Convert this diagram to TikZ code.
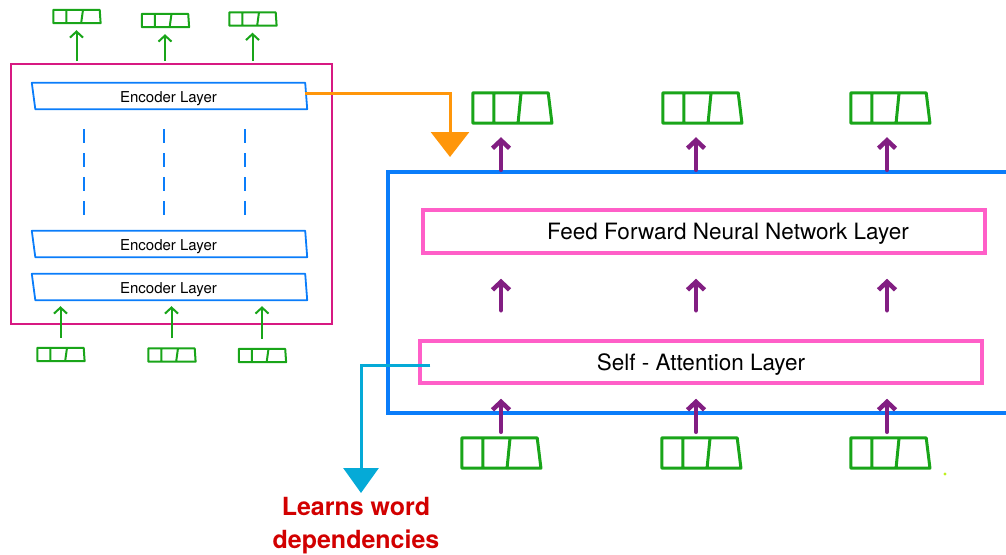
\documentclass[tikz,border=0pt]{standalone}
\usepackage{fontspec}
\setmainfont{TeX Gyre Heros}
\usetikzlibrary{arrows.meta,fit,calc}
\definecolor{vecgreen}{RGB}{25,165,25}
\definecolor{encpink}{RGB}{215,25,130}
\definecolor{layerblue}{RGB}{10,125,250}
\definecolor{decpink}{RGB}{255,95,200}
\definecolor{arrowpurple}{RGB}{130,30,130}
\definecolor{linkorange}{RGB}{255,150,10}
\definecolor{linkcyan}{RGB}{5,170,215}
\definecolor{notered}{RGB}{210,0,0}
\definecolor{dotlime}{RGB}{190,240,30}

% word vector: name, x, y, width, height, line width, slant
\newcommand{\wordvec}[7]{%
  \node[minimum width=#4pt, minimum height=#5pt, inner sep=0pt] (#1) at (#2,#3) {};
  \draw[vecgreen, line width=#6pt, line join=round]
    (#1.north west) -- (#1.north east) -- ([xshift=#7*#4pt]#1.south east) -- (#1.south west) -- cycle
    ($(#1.north west)!0.28!(#1.north east)$) -- ($(#1.south west)!0.28!(#1.south east)$)
    ($(#1.north west)!0.64!(#1.north east)$) -- ($(#1.south west)!0.60!(#1.south east)$);
}
% encoder layer: name, y, text
\newcommand{\enclayer}[3]{%
  \node[minimum width=273pt, minimum height=26pt, inner sep=0pt, text depth=0pt, font=\fontsize{15}{18}\selectfont] (#1) at (168.5,#2) {\raisebox{-1.5pt}{#3}};
  \draw[layerblue, line width=1.8pt, line join=round]
    (#1.north west) -- (#1.north east) -- ([xshift=2pt]#1.south east) -- ([xshift=3.5pt]#1.south west) -- cycle;
}

\begin{document}
\begin{tikzpicture}[x=1pt, y=-1pt]
	\tikzstyle{garrow} = [-{Straight Barb[length=6pt,width=13pt]}, vecgreen, line width=2pt]
	\tikzstyle{parrow} = [-{Straight Barb[length=8pt,width=17pt]}, arrowpurple, line width=4.5pt, line cap=round]
	\tikzstyle{layerbox} = [draw=decpink, line width=3.5pt, minimum width=562pt, inner sep=0pt, text depth=0pt]

	\useasboundingbox (0,0) rectangle (1006,554);

	% encoder stack
	\node[fit={(11,64) (332,324)}, inner sep=0pt, draw=encpink, line width=2pt] (encbox) {};
	\enclayer{encT}{96}{Encoder Layer}
	\enclayer{encM}{244}{Encoder Layer}
	\enclayer{encB}{287}{Encoder Layer}
	\foreach \x in {84,164,245}
		\draw[layerblue, line width=2pt, dash pattern=on 14pt off 10pt] (\x,129) -- (\x,218);

	\wordvec{vsT1}{76.5}{16.5}{46}{13}{2}{0.02}
	\wordvec{vsT2}{165}{20.5}{46}{13}{2}{0.02}
	\wordvec{vsT3}{252.5}{19}{46}{13}{2}{0.02}
	\wordvec{vsB1}{60.5}{354.5}{46}{13}{2}{0.02}
	\wordvec{vsB2}{171.5}{355}{46}{13}{2}{0.02}
	\wordvec{vsB3}{262}{355.5}{46}{13}{2}{0.02}
	\foreach \v in {vsT1,vsT2,vsT3}
		\draw[garrow, shorten <=2pt, shorten >=7pt] (encbox.north -| \v) -- (\v.south);
	\foreach \v in {vsB1,vsB2,vsB3}
		\draw[garrow, shorten <=10pt, shorten >=6pt] (\v.north) -- (encB.south -| \v);

	% decoder block
	\node[fit={(388,172) (1006,413)}, inner sep=0pt] (dec) {};
	\draw[layerblue, line width=3.5pt] (dec.north east) -- (dec.north west) -- (dec.south west) -- (dec.south east);
	\node[layerbox, minimum height=43pt, label={[font=\fontsize{22.5}{27}\selectfont, text depth=0pt, xshift=24pt]center:Feed Forward Neural Network Layer}] (ffn) at (704,231.5) {};
	\node[layerbox, minimum height=42pt, font=\fontsize{22.5}{27}\selectfont] (sa) at (701,362) {Self - Attention Layer};

	\wordvec{vT1}{510.5}{108}{75}{30}{3}{0.05}
	\wordvec{vT2}{700.5}{108}{75}{30}{3}{0.05}
	\wordvec{vT3}{888.5}{108}{75}{30}{3}{0.05}
	\wordvec{vB1}{499.5}{453}{75}{30}{3}{0.05}
	\wordvec{vB2}{699.5}{453}{75}{30}{3}{0.05}
	\wordvec{vB3}{888.5}{453}{75}{30}{3}{0.05}

	\coordinate (col1) at (501,0);
	\coordinate (col2) at (696,0);
	\coordinate (col3) at (887,0);
	\foreach \i in {1,2,3} {
		\draw[parrow, shorten <=2pt, shorten >=14pt] (dec.north -| col\i) -- (vT\i.south -| col\i);
		\draw[parrow, shorten <=29pt, shorten >=24pt] (sa.north -| col\i) -- (ffn.south -| col\i);
		\draw[parrow, shorten <=6pt, shorten >=14pt] (vB\i.north -| col\i) -- (sa.south -| col\i);
	}

	% links
	\coordinate (otip) at (450,157);
	\draw[linkorange, line width=3pt, -{Triangle[length=25pt,width=38pt]}] ([yshift=3pt]encT.east) -| (otip);
	\coordinate (ctip) at (361,493);
	\draw[linkcyan, line width=3pt, -{Triangle[length=25pt,width=35pt]}] ([xshift=12pt,yshift=-3pt]sa.west) -| (ctip);
	\node[notered, font=\bfseries\fontsize{25}{33}\selectfont, align=center] (note) at (356,526) {Learns word\\dependencies};

	\fill[dotlime] (945,474) circle (1.6pt);
\end{tikzpicture}
\end{document}
